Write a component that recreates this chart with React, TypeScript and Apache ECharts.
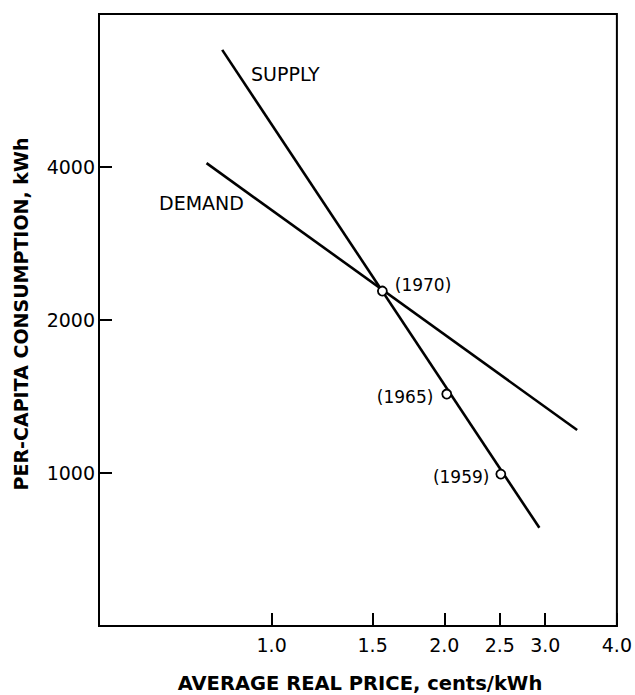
import React, { useEffect, useRef } from "react";
import * as echarts from "echarts";

// Tick labels
const xTickValues = [1.0, 1.5, 2.0, 2.5, 3.0, 4.0];
const xTickLabels = ["1.0", "1.5", "2.0", "2.5", "3.0", "4.0"];
const yTickValues = [1000, 2000, 4000];
const yTickLabels = ["1000", "2000", "4000"];

// Curves (average real price cents/kWh, per-capita consumption kWh)
const supplyPrice = [0.82, 2.93];
const supplyConsumption = [6800, 780];
const demandPrice = [0.77, 3.41];
const demandConsumption = [4070, 1215];

// Observed years
const obsYears = ["(1970)", "(1965)", "(1959)"];
const obsPrice = [1.56, 2.02, 2.51];
const obsConsumption = [2280, 1430, 995];

const FONT = "DejaVu Sans";
const lg = (v: number) => Math.log10(v);

export default function App() {
  const ref = useRef<HTMLDivElement>(null);
  useEffect(() => {
    if (!ref.current) return;
    const chart = echarts.init(ref.current, null, { renderer: "svg" });
    const fmt = (vals: number[], labels: string[]) => (v: number) => {
      for (let i = 0; i < vals.length; i++) {
        if (Math.abs(lg(vals[i]) - v) < 1e-6) return labels[i];
      }
      return "";
    };
    const labelPos = [
      { position: "right", distance: 7, offset: [0, -6] },
      { position: "left", distance: 8, offset: [0, 3] },
      { position: "left", distance: 6, offset: [0, 3] },
    ];
    chart.setOption({
      animation: false,
      backgroundColor: "#fff",
      grid: {
        left: 99,
        top: 14,
        width: 519,
        height: 612,
        show: true,
        borderColor: "#000",
        borderWidth: 2,
        backgroundColor: "transparent",
      },
      xAxis: {
        type: "value",
        min: lg(0.5),
        max: lg(4),
        axisLine: { show: true, onZero: false, lineStyle: { color: "#000", width: 2 } },
        axisTick: {
          show: true,
          inside: true,
          length: 13,
          lineStyle: { color: "#000", width: 2 },
          customValues: xTickValues.map(lg),
        },
        axisLabel: {
          show: true,
          margin: 9,
          color: "#000",
          fontFamily: FONT,
          fontSize: 19,
          customValues: xTickValues.map(lg),
          formatter: fmt(xTickValues, xTickLabels),
        },
        splitLine: { show: false },
      },
      yAxis: {
        type: "value",
        min: lg(500),
        max: lg(8000),
        axisLine: { show: true, onZero: false, lineStyle: { color: "#000", width: 2 } },
        axisTick: {
          show: true,
          inside: true,
          length: 13,
          lineStyle: { color: "#000", width: 2 },
          customValues: yTickValues.map(lg),
        },
        axisLabel: {
          show: true,
          margin: 4,
          color: "#000",
          fontFamily: FONT,
          fontSize: 19,
          customValues: yTickValues.map(lg),
          formatter: fmt(yTickValues, yTickLabels),
        },
        splitLine: { show: false },
      },
      series: [
        {
          name: "SUPPLY",
          type: "line",
          symbol: "none",
          data: supplyPrice.map((p, i) => [lg(p), lg(supplyConsumption[i])]),
          lineStyle: { color: "#000", width: 2.6 },
          z: 2,
        },
        {
          name: "DEMAND",
          type: "line",
          symbol: "none",
          data: demandPrice.map((p, i) => [lg(p), lg(demandConsumption[i])]),
          lineStyle: { color: "#000", width: 2.6 },
          z: 2,
        },
        {
          name: "Observed",
          type: "scatter",
          symbol: "circle",
          symbolSize: 9,
          itemStyle: { color: "#fff", borderColor: "#000", borderWidth: 1.8, opacity: 1 },
          z: 5,
          data: obsPrice.map((p, i) => ({
            value: [lg(p), lg(obsConsumption[i])],
            name: obsYears[i],
            label: {
              show: true,
              formatter: obsYears[i],
              color: "#000",
              opacity: 1,
              fontFamily: FONT,
              fontSize: 17,
              position: labelPos[i].position,
              distance: labelPos[i].distance,
              offset: labelPos[i].offset,
            },
          })),
        },
      ],
      graphic: [
        {
          type: "text",
          left: 251,
          top: 64,
          style: { text: "SUPPLY", fill: "#000", font: `19px "${FONT}"` },
        },
        {
          type: "text",
          left: 159,
          top: 193,
          style: { text: "DEMAND", fill: "#000", font: `19px "${FONT}"` },
        },
        {
          type: "text",
          x: 360,
          y: 683,
          style: {
            text: "AVERAGE REAL PRICE, cents/kWh",
            fill: "#000",
            font: `bold 19.5px "${FONT}"`,
            textAlign: "center",
            textVerticalAlign: "middle",
          },
        },
        {
          type: "text",
          x: 21,
          y: 314,
          rotation: Math.PI / 2,
          style: {
            text: "PER-CAPITA CONSUMPTION, kWh",
            fill: "#000",
            font: `bold 19px "${FONT}"`,
            textAlign: "center",
            textVerticalAlign: "middle",
          },
        },
      ],
    });
    return () => chart.dispose();
  }, []);
  return (
    <div
      ref={ref}
      style={{ position: "absolute", left: 0, top: 0, width: 635, height: 695 }}
    />
  );
}
